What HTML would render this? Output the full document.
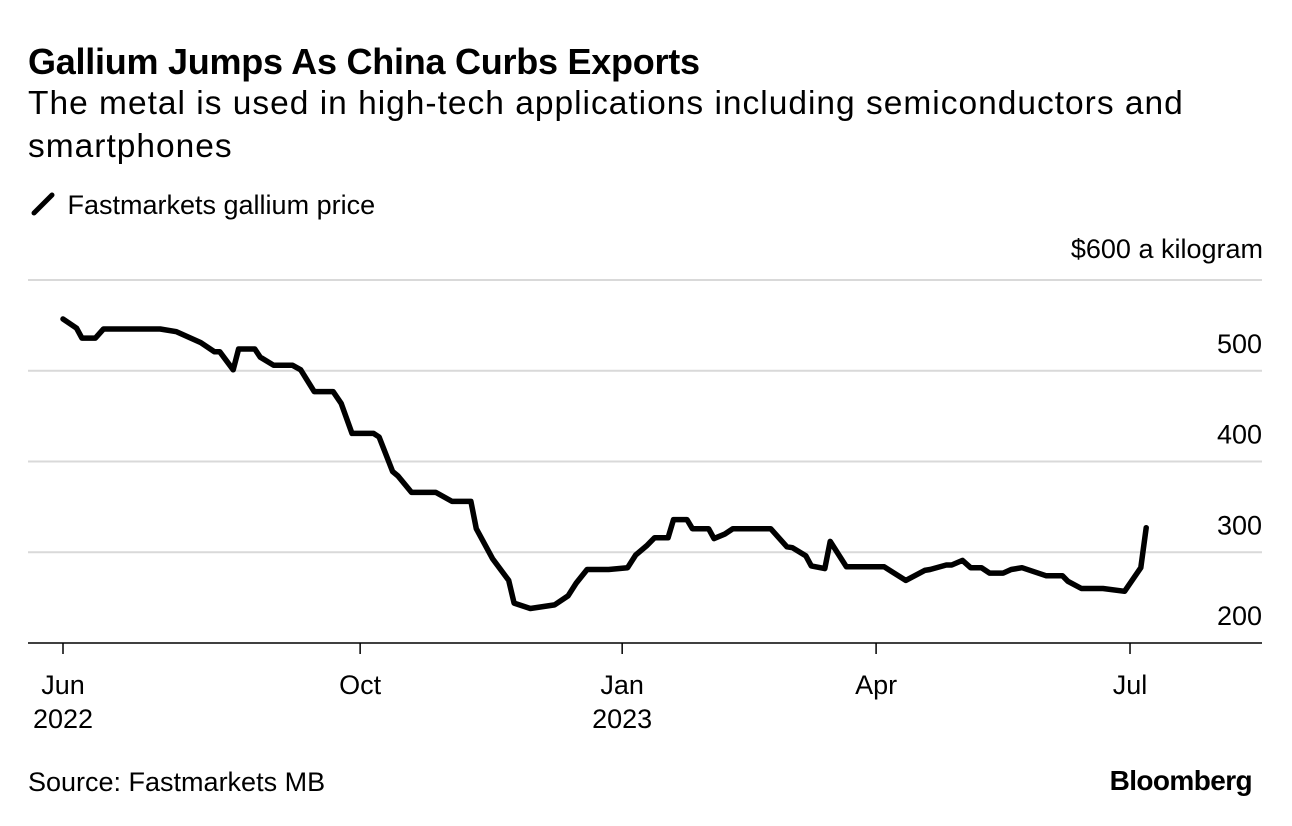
<!DOCTYPE html>
<html><head><meta charset="utf-8"><style>
body{margin:0;background:#fff;font-family:"Liberation Sans",sans-serif;color:#000}
#wrap{position:relative;width:1292px;height:826px;overflow:hidden}
.t{position:absolute;white-space:nowrap}
</style></head><body><div id="wrap">
<div class="t" style="left:28px;top:41px;font-size:36px;font-weight:bold;letter-spacing:-0.25px">Gallium Jumps As China Curbs Exports</div>
<div class="t" style="left:28px;top:82px;font-size:33.5px;line-height:43px;white-space:normal;width:1250px;letter-spacing:1px">The metal is used in high-tech applications including semiconductors and smartphones</div>
<div class="t" style="left:30px;top:190px;font-size:27px"><svg width="30" height="26" style="vertical-align:-3px"><line x1="4" y1="22" x2="22" y2="4" stroke="#000" stroke-width="5" stroke-linecap="round"/></svg> Fastmarkets gallium price</div>
<div class="t" style="right:29px;top:234px;font-size:27px">$600 a kilogram</div>
<svg id="plot" width="1292" height="826" style="position:absolute;left:0;top:0"></svg>
<div class="t" style="left:28px;top:767px;font-size:27px">Source: Fastmarkets MB</div>
<div class="t" style="right:40px;top:765px;font-size:28px;font-weight:bold;letter-spacing:-0.6px">Bloomberg</div>
</div>
<script>
const days=[0,5,7,12,15,36,42,51,56,58,63,65,71,73,78,85,88,93,100,103,107,115,117,122,124,129,138,144,151,153,159,165,167,173,182,187,190,194,199,202,209,212,216,219,224,226,231,233,239,241,245,248,262,268,270,275,277,282,284,290,304,312,319,321,327,329,333,336,340,343,348,351,355,364,370,372,377,385,393,399,401];
const prices=[557,547,536,536,546,546,543,531,521,521,501,524,524,515,506,506,501,477,477,464,431,431,427,389,384,366,366,356,356,326,293,269,244,238,242,252,266,281,281,281,283,297,307,316,316,336,336,326,326,315,320,326,326,306,305,296,285,282,312,284,284,269,280,281,286,286,291,283,283,277,277,281,283,274,274,268,260,260,257,283,327];
const yTicks=[200,300,400,500,600];
const xTickDays=[0,110,207,301,395];
const xTickLabels=[["Jun","2022"],["Oct",""],["Jan","2023"],["Apr",""],["Jul",""]];
const svg=document.getElementById('plot');
const NS='http://www.w3.org/2000/svg';
const X=d=>63+d*2.7013;
const Y=p=>643-(p-200)*0.9075;
function mk(tag,attrs){const e=document.createElementNS(NS,tag);for(const k in attrs)e.setAttribute(k,attrs[k]);svg.appendChild(e);return e;}
yTicks.forEach(v=>{
  const g=mk('line',{x1:28,x2:1262,y1:Y(v),y2:Y(v),stroke:v===200?'#000':'#d9d9d9','stroke-width':v===200?1.5:2});
  
  
  if(v<600){
    const t=mk('text',{x:1262,y:Y(v)-18,'text-anchor':'end','font-size':27,'font-family':'Liberation Sans, sans-serif'});
    t.textContent=v;
    
    
  }
});
xTickDays.forEach((d,i)=>{
  const l=mk('line',{x1:X(d),x2:X(d),y1:643,y2:654,stroke:'#000','stroke-width':1.5});
  
  
  xTickLabels[i].forEach((s,j)=>{if(!s)return;
    const t=mk('text',{x:X(d),y:694+j*34,'text-anchor':'middle','font-size':27,'font-family':'Liberation Sans, sans-serif'});
    t.textContent=s;
    
    
  });
});
const pts=days.map((d,i)=>X(d).toFixed(1)+','+Y(prices[i]).toFixed(1)).join(' ');
const pl=mk('polyline',{points:pts,fill:'none',stroke:'#000','stroke-width':5.5,'stroke-linejoin':'round','stroke-linecap':'round'});


</script>
</body></html>
